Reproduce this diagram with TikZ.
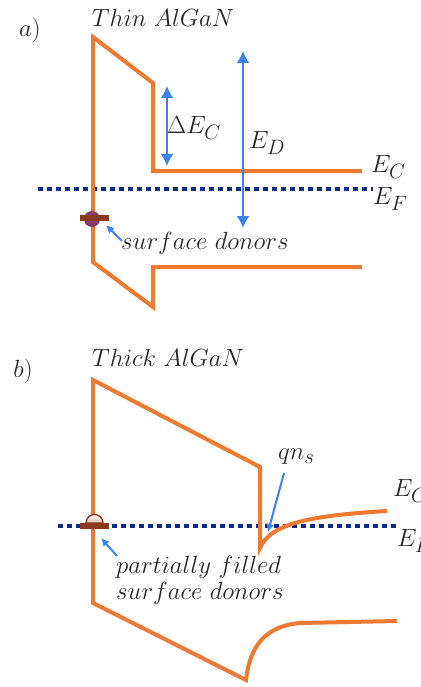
\documentclass[tikz,border=0pt]{standalone}
\usetikzlibrary{arrows.meta}
\definecolor{band}{HTML}{EE7A32}
\definecolor{arr}{HTML}{3B82EE}
\definecolor{fermi}{HTML}{0B2A8A}
\definecolor{donor}{HTML}{8C3A1C}
\definecolor{donorc}{HTML}{8A3A68}
\definecolor{txt}{HTML}{262626}
\tikzset{
  bandline/.style={draw=band, line width=4pt, line join=miter},
  fermiline/.style={draw=fermi, line width=4.5pt, dash pattern=on 4.5pt off 4.5pt},
  bigarrow/.style={draw=arr, line width=2pt, {Latex[length=12pt,width=13pt]}-{Latex[length=12pt,width=13pt]}},
  smallarrow/.style={draw=arr, line width=2pt, -{Latex[length=8pt,width=8pt]}},
  lbl/.style={text=txt, inner sep=0pt, font=\fontsize{24.88}{30}\selectfont},
}
\begin{document}
\begin{tikzpicture}[x=1pt,y=-1pt]
\useasboundingbox (0,0) rectangle (420,687);
% ---------- panel a ----------
\node[lbl] (la) at (30,30) {$a)$};
\node[lbl] (ta) at (163,18) {$Thin\ AlGaN$};
\draw[fermiline] (38,189) -- (373,189);
\draw[bandline] (362,171) -- (153,171) -- (153,83) -- (93,37) -- (93,262) -- (153,307) -- (153,267) -- (362,267);
\fill[donorc] (92,219) circle (8);
\fill[donor] (80,215) rectangle (109,221);
\coordinate (dca) at (167,86);
\coordinate (dcb) at (167,166);
\draw[bigarrow] (dca) -- (dcb);
\node[lbl, anchor=west] (dEC) at (167,128) {$\Delta E_C$};
\coordinate (eda) at (243,51);
\coordinate (edb) at (243,228);
\draw[bigarrow] (eda) -- (edb);
\node[lbl, anchor=west] (ED) at (249,143) {$E_D$};
\node[lbl, anchor=west] (ECa) at (371,167) {$E_C$};
\node[lbl, anchor=west] (EFa) at (373,199) {$E_F$};
\node[lbl, anchor=west] (sda) at (121,243) {$surface\ donors$};
\coordinate (sdaT) at (122,241);
\coordinate (donA) at (106,225);
\draw[smallarrow] (sdaT) -- (donA);
% ---------- panel b ----------
\node[lbl] (lb) at (23,371) {$b)$};
\node[lbl] (tb) at (168,358) {$Thick\ AlGaN$};
\draw[fermiline] (58,526) -- (397,526);
\draw[bandline] (387,511) .. controls (300,516) and (270,526) .. (260,548) -- (260,467) -- (93,380) -- (93,603) -- (246,680)
  .. controls (250,645) and (266,626) .. (300,623) -- (397,621);
\shadedraw[top color=white, bottom color=donor!35!white, draw=donor, line width=1.3pt] (86,523) arc (180:360:8.5) -- cycle;
\fill[donor] (80,523) rectangle (109,529);
\node[lbl, anchor=west] (qns) at (278,457) {$qn_s$};
\coordinate (qnsS) at (284,473);
\coordinate (nsT) at (268,532);
\draw[smallarrow] (qnsS) -- (nsT);
\node[lbl, anchor=west] (ECb) at (393,491) {$E_C$};
\node[lbl, anchor=west] (EFb) at (397,541) {$E_F$};
\node[lbl, anchor=west, align=left] (sdb) at (116,580) {$partially\ filled$\\[-4pt]$surface\ donors$};
\coordinate (sdbT) at (117,556);
\coordinate (donB) at (101,538);
\draw[smallarrow] (sdbT) -- (donB);
\end{tikzpicture}
\end{document}
